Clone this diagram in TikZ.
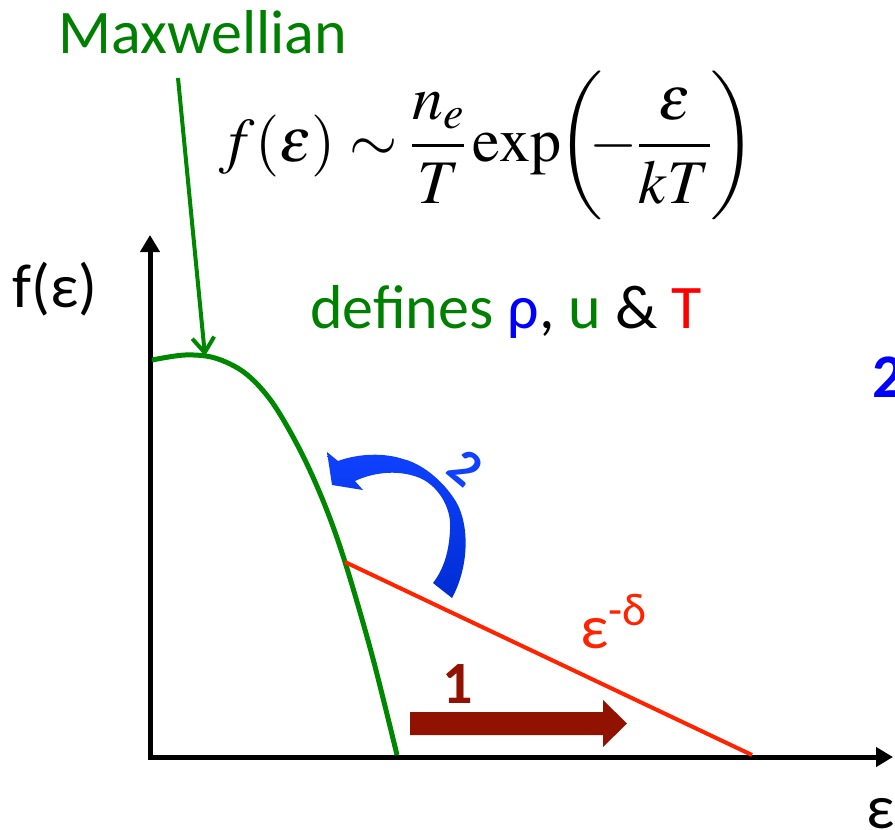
\documentclass[tikz,border=0pt]{standalone}
\usepackage{amsmath}
\usepackage{mathptmx}
\usepackage[no-math]{fontspec}
\setmainfont{Carlito}
\usetikzlibrary{arrows.meta}
\definecolor{mgreen}{RGB}{0,135,0}
\definecolor{tgreen}{RGB}{0,128,0}
\definecolor{mred}{RGB}{255,35,0}
\definecolor{dred}{RGB}{145,18,0}
\definecolor{mblue}{RGB}{0,0,255}
\definecolor{ablue}{RGB}{15,65,255}
\definecolor{ablue2}{RGB}{0,45,210}
\tikzset{
  big/.style={font=\fontsize{62}{70}\selectfont, inner sep=0pt},
  axis/.style={line width=5pt, -{Triangle[length=17pt,width=19pt]}},
}
\begin{document}
\begin{tikzpicture}[x=1pt,y=-1pt]
\clip (0,0) rectangle (895,830);
\fill[white] (0,0) rectangle (895,830);
% axes
\coordinate (O) at (150,757);
\coordinate (ytop) at (150,235);
\coordinate (xend) at (893,757);
\draw[axis] (150,759) -- (ytop);
\draw[axis] (148,757) -- (xend);
% Maxwellian curve
\coordinate (mstart) at (152,360);
\coordinate (mtip) at (205,356);
\coordinate (knee) at (345,562);
\coordinate (mend) at (397,755);
\draw[mgreen, line width=5pt] plot[smooth, tension=0.55] coordinates
  {(152,360) (185,355) (215,358) (245,373) (272,402) (300,450) (324,503) (345,562) (372,655) (397,755)};
% power-law tail
\coordinate (tailend) at (752,755);
\draw[mred, line width=4pt] (knee) -- (tailend);
% labels
\node[big, text=tgreen, anchor=base] (maxw) at (203,53) {Maxwellian};
\coordinate (mfrom) at (178,78);
\draw[mgreen, line width=4pt, -{Straight Barb[length=15pt,width=22pt]}] (mfrom) -- (mtip);
\node[inner sep=0pt, anchor=base] (formula) at (488,161)
  {\fontsize{62}{66}\selectfont$\displaystyle f(\varepsilon)\sim\frac{n_e}{T}\exp\mkern-3mu\left(\vrule height 88pt depth 50pt width 0pt\mkern-4mu-\frac{\varepsilon}{kT}\right)$};
\node[big, anchor=base] (fe) at (55,307) {f(ε)};
\node[big, anchor=base] (defines) at (506,328)
  {\textcolor{tgreen}{defines} \textcolor{mblue}{ρ}, \textcolor{tgreen}{u} \& \textcolor{red}{T}};
\node[big, text=mred, anchor=base west] (edelta) at (580,648) {ε\textsuperscript{-δ}};
\node[big, text=dred, anchor=base, font=\fontsize{60}{70}\selectfont\bfseries] (one) at (458,703) {1};
\node[big, text=mblue, anchor=base west, font=\fontsize{62}{70}\selectfont\bfseries] (two) at (872,397) {2};
\node[big, anchor=base west] (eps) at (866,828) {ε};
% dark red arrow
\fill[dred] (410,712) -- (603,712) -- (603,700) -- (627,723.5) -- (603,747) -- (603,735) -- (410,735) -- cycle;
% blue curved arrow
\shade[top color=ablue, bottom color=ablue2]
  (452,598) .. controls (470,565) and (470,520) .. (453,497)
  .. controls (440,478) and (420,463) .. (403,459)
  .. controls (385,453) and (360,453) .. (338,461)
  -- (327,452) -- (332,485) -- (363,490) -- (355,481)
  .. controls (370,474) and (395,468) .. (420,478)
  .. controls (440,487) and (452,510) .. (450,530)
  .. controls (449,553) and (443,570) .. (433,583) -- cycle;
\node[text=ablue, inner sep=0pt, rotate=-40, font=\fontsize{52}{60}\selectfont\bfseries] (rot2) at (466,468) {2};
\end{tikzpicture}
\end{document}
